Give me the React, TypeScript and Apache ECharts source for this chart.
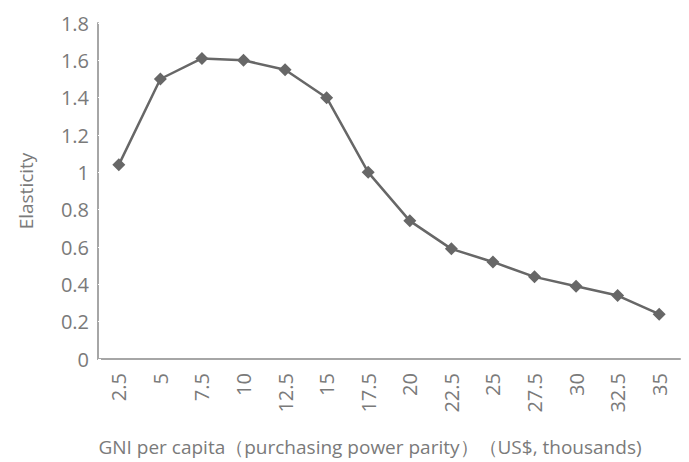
import React, { useEffect, useRef } from "react";
import * as echarts from "echarts";

const categories = ["2.5", "5", "7.5", "10", "12.5", "15", "17.5", "20", "22.5", "25", "27.5", "30", "32.5", "35"];
const elasticity = [1.04, 1.5, 1.61, 1.6, 1.55, 1.4, 1.0, 0.74, 0.59, 0.52, 0.44, 0.39, 0.34, 0.24];
const yAxisName = "Elasticity";
const xAxisName = "GNI per capita（purchasing power parity）（US$, thousands)";

const FONT = "'Open Sans', 'Noto Sans', sans-serif";
const TEXT = "#7a7a7a";
const WEIGHT = 400;

export default function App() {
  const ref = useRef<HTMLDivElement>(null);
  useEffect(() => {
    if (!ref.current) return;
    const chart = echarts.init(ref.current, undefined, { renderer: "svg" });
    chart.setOption({
      animation: false,
      backgroundColor: "#ffffff",
      grid: { left: 98, right: 9, top: 23, bottom: 103, containLabel: false },
      xAxis: {
        type: "category",
        data: categories,
        boundaryGap: true,
        axisLine: { lineStyle: { color: "#a6a6a6", width: 2 } },
        axisTick: { show: false },
        axisLabel: { rotate: 90, color: TEXT, fontFamily: FONT, fontSize: 20, fontWeight: WEIGHT, margin: 14 },
      },
      yAxis: {
        type: "value",
        min: 0,
        max: 1.8,
        interval: 0.2,
        name: yAxisName,
        nameLocation: "middle",
        nameGap: 63,
        nameTextStyle: { color: TEXT, fontFamily: FONT, fontSize: 19, fontWeight: WEIGHT },
        splitLine: { show: false },
        axisLine: { show: true, lineStyle: { color: "#a6a6a6", width: 2 } },
        axisTick: { show: true, length: 3, lineStyle: { color: "#ffffff" }, inside: true },
        axisLabel: {
          color: TEXT,
          fontFamily: FONT,
          fontSize: 20,
          fontWeight: WEIGHT,
          margin: 9,
          formatter: (v: number) => String(Math.round(v * 10) / 10),
        },
      },
      graphic: [
        {
          type: "text",
          x: 370,
          y: 447,
          style: {
            text: xAxisName,
            fill: TEXT,
            font: `${WEIGHT} 19px ${FONT}`,
            textAlign: "center",
            textVerticalAlign: "middle",
          },
        },
      ],
      series: [
        {
          type: "line",
          data: elasticity,
          symbol: "diamond",
          symbolSize: 13,
          itemStyle: { color: "#676767" },
          lineStyle: { color: "#676767", width: 2.5 },
        },
      ],
    });
    return () => chart.dispose();
  }, []);
  return <div ref={ref} style={{ width: 689, height: 462, position: "absolute", left: 0, top: 0 }} />;
}
